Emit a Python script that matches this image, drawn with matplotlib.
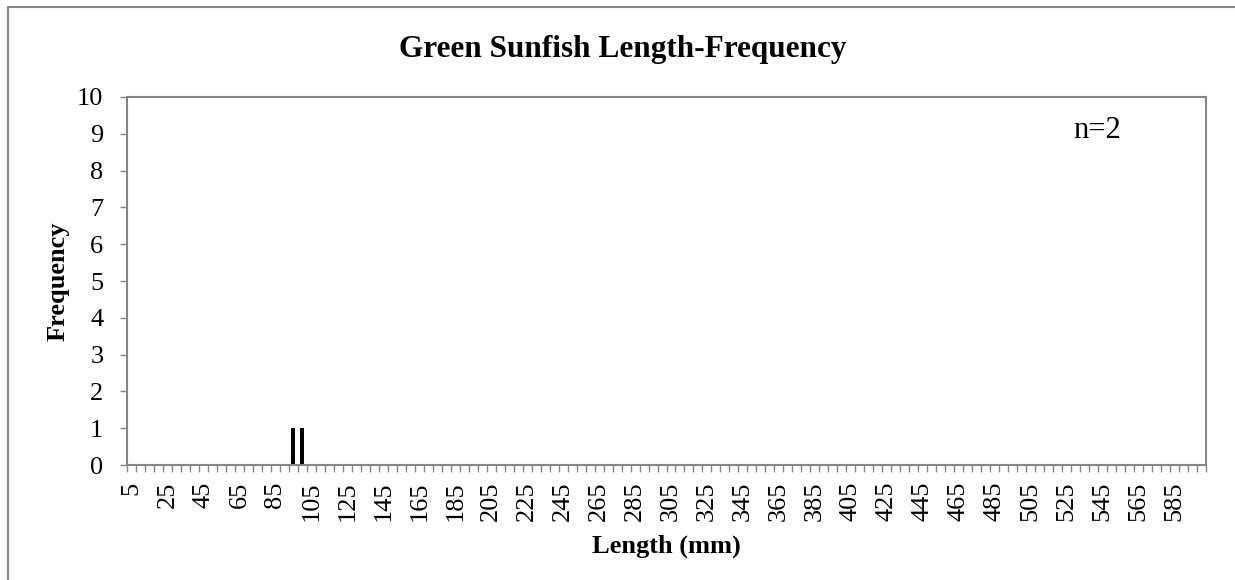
import numpy as np
import matplotlib.pyplot as plt
from matplotlib.patches import Rectangle

plt.rcParams['font.family'] = ['Liberation Serif', 'DejaVu Serif']

# length classes (mm) and counts
lengths = list(range(5, 601, 5))
counts = [0] * len(lengths)
counts[lengths.index(95)] = 1
counts[lengths.index(100)] = 1
n_fish = 2

fig = plt.figure(figsize=(12.35, 5.8), dpi=100)
ax = fig.add_axes([127/1235, 1 - 465/580, (1206 - 127)/1235, (465 - 97)/580])

# outer chart border
fig.patches.append(Rectangle((8/1235, -0.1), 1.1, 1 - 7/580 + 0.1, transform=fig.transFigure,
                             fill=False, edgecolor='#868686', linewidth=1.5, zorder=0))

x = np.arange(len(lengths))
ax.bar(x, counts, width=0.42, color='black')

ax.set_xlim(-0.5, len(lengths) - 0.5)
ax.set_ylim(0, 10)
ax.set_yticks(range(0, 11))
ax.set_xticks(x[::4])
ax.set_xticklabels([str(v) for v in lengths[::4]], rotation=90, fontsize=19)
ax.set_xticks(np.arange(-0.5, len(lengths), 1), minor=True)
ax.tick_params(axis='x', which='major', length=0, pad=12)
ax.tick_params(axis='x', which='minor', length=5, color='#868686', width=1)
ax.tick_params(axis='y', length=5, color='#868686', width=1, labelsize=19, pad=12)

for s in ax.spines.values():
    s.set_color('#868686')
    s.set_linewidth(1.5)

fig.text(623/1235, 1 - 50/580, 'Green Sunfish Length-Frequency', fontsize=22.5,
         fontweight='bold', ha='center', va='center')
ax.set_xlabel('Length (mm)', fontsize=19, fontweight='bold')
ax.xaxis.set_label_coords(0.5, -0.19)
ax.set_ylabel('Frequency', fontsize=19, fontweight='bold')
ax.yaxis.set_label_coords(-0.053, 0.5)
ax.text(0.877, 0.91, 'n=%d' % n_fish, transform=ax.transAxes, fontsize=22, va='center')

fig.savefig('out.png', dpi=100)
